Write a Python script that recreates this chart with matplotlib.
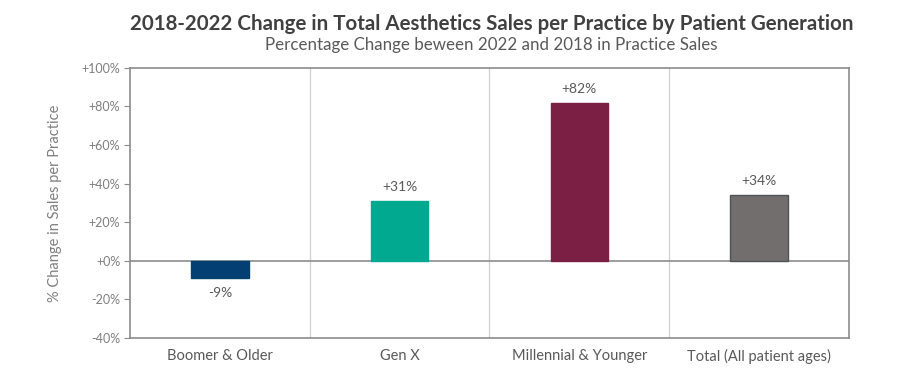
# 2018-2022 change in aesthetics sales per practice, by patient generation
import matplotlib.pyplot as plt
import numpy as np

categories = ["Boomer & Older", "Gen X", "Millennial & Younger", "Total (All patient ages)"]
changes = [-9, 31, 82, 34]
labels = ["-9%", "+31%", "+82%", "+34%"]
colors = ["#033f73", "#00a98f", "#7b1f45", "#716e6d"]
edges = ["#033f73", "#00a98f", "#7b1f45", "#4f5358"]
yticks = [-40, -20, 0, 20, 40, 60, 80, 100]
ytick_labels = ["-40%", "-20%", "+0%", "+20%", "+40%", "+60%", "+80%", "+100%"]

plt.rcParams['font.family'] = ['Lato', 'DejaVu Sans']

f = plt.figure(figsize=(9.24, 3.88), dpi=100)
ax = f.add_axes([0.1407, 0.129, 0.778, 0.696])

x = np.arange(len(categories))
ax.bar(x, changes, width=0.32, color=colors, edgecolor=edges, linewidth=1, zorder=3)

for xi, v, lab in zip(x, changes, labels):
    if v < 0:
        ax.text(xi, v - 4.5, lab, ha='center', va='top', fontsize=10, color='#595959')
    else:
        ax.text(xi, v + 4, lab, ha='center', va='bottom', fontsize=10, color='#595959')

ax.set_xlim(-0.5, len(categories) - 0.5)
ax.set_ylim(-40, 100)
ax.set_yticks(yticks)
ax.set_yticklabels(ytick_labels, fontsize=9, color='#7f7f7f')
ax.set_xticks(x)
ax.set_xticklabels(categories, fontsize=10.5, color='#595959')
ax.tick_params(axis='x', length=0, pad=8)
ax.tick_params(axis='y', length=4, color='#8c8c8c', direction='out', pad=3)

# separators between categories
for b in x[:-1] + 0.5:
    ax.axvline(b, color='#d0d0d0', linewidth=0.9, zorder=1)
ax.axhline(0, color='#8c8c8c', linewidth=1.2, zorder=2)

for s in ax.spines.values():
    s.set_color('#8c8c8c')
    s.set_linewidth(1.2)

ax.set_ylabel("% Change in Sales per Practice", fontsize=10.5, color='#7f7f7f', labelpad=14)

f.text(0.532, 0.937, "2018-2022 Change in Total Aesthetics Sales per Practice by Patient Generation",
       ha='center', va='center', fontsize=14.8, fontweight='bold', color='#404040')
f.text(0.532, 0.884, "Percentage Change beween 2022 and 2018 in Practice Sales",
       ha='center', va='center', fontsize=12.2, color='#595959')

f.savefig('out.png', dpi=100)
